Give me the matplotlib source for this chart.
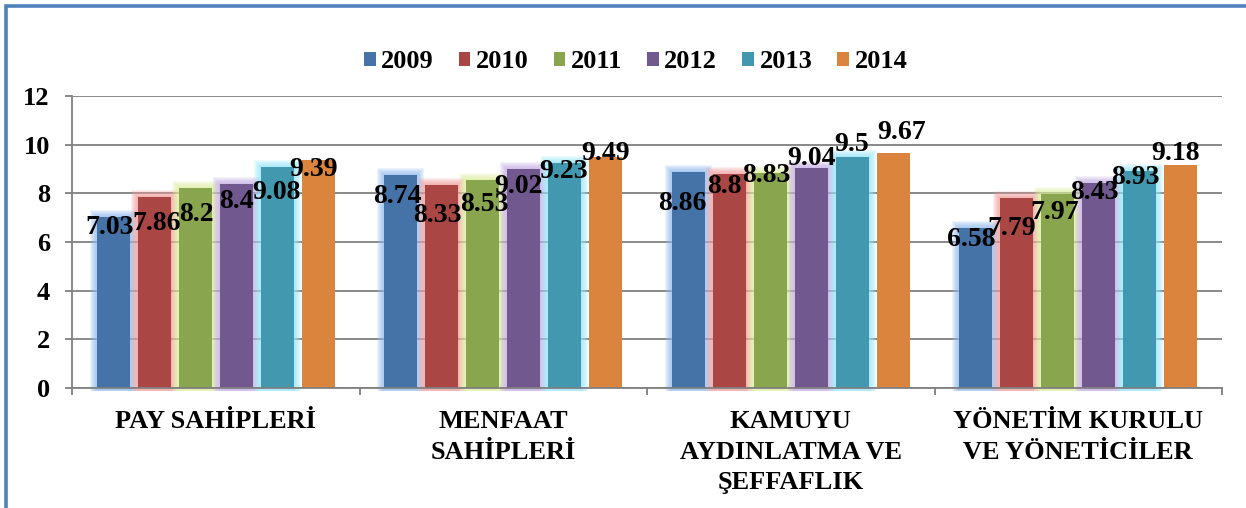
import matplotlib
matplotlib.use("Agg")
import matplotlib.pyplot as plt
from matplotlib.patches import Rectangle
from matplotlib.lines import Line2D

plt.rcParams['font.family'] = ['Liberation Serif', 'DejaVu Serif']

categories = ["PAY SAHİPLERİ", "MENFAAT\nSAHİPLERİ", "KAMUYU\nAYDINLATMA VE\nŞEFFAFLIK",
              "YÖNETİM KURULU\nVE YÖNETİCİLER"]
years = ["2009", "2010", "2011", "2012", "2013", "2014"]
v2009 = [7.03, 8.74, 8.86, 6.58]
v2010 = [7.86, 8.33, 8.8, 7.79]
v2011 = [8.2, 8.53, 8.83, 7.97]
v2012 = [8.4, 9.02, 9.04, 8.43]
v2013 = [9.08, 9.23, 9.5, 8.93]
v2014 = [9.39, 9.49, 9.67, 9.18]
series = [v2009, v2010, v2011, v2012, v2013, v2014]
yticks = [0, 2, 4, 6, 8, 10, 12]

colors = ["#4572A7", "#AA4643", "#89A54E", "#71588F", "#4198AF", "#DB843D"]
glow_colors = ["#8DB8EE", "#F29A9A", "#DDEE99", "#C3A8E6", "#90E6FA", None]

# label offsets in pixels (dx right, dy below bar top)
label_dx = [[-4, -4, -6, -5], [2, -4, -5, -5], [1, 2, -4, -3],
            [0, -5, 0, -4], [-1, -1, -1, -4], [-5, 0, 8, -5]]
label_dy = [[11, 21, 31, 12], [27, 30, 13, 30], [26, 24, 2, 18],
            [18, 18, -10, 10], [25, 8, -12, 7], [10, -4, -20, -11]]

W, H = 1246, 508
fig = plt.figure(figsize=(W / 100, H / 100), dpi=100)
ax = fig.add_axes([72 / W, 1 - 388 / H, (1222 - 72) / W, (388 - 96) / H])
ax.set_xlim(0, 4)
ax.set_ylim(0, 12)

px_x = 4 / 1150.0   # data units per pixel horizontally
px_y = 12 / 292.0   # data units per pixel vertically

step = 41 / 288.0
bw = 33 / 288.0

for i, (vals, col, gcol) in enumerate(zip(series, colors, glow_colors)):
    xs = [c + 0.5 + (i - 2.5) * step for c in range(len(vals))]
    for x, v in zip(xs, vals):
        if gcol is not None:
            for k in range(1, 8):
                m = k
                r = Rectangle((x - bw / 2 - m * px_x, -3 * px_y), bw + 2 * m * px_x,
                              v + 3 * px_y + m * px_y, facecolor=gcol, edgecolor='none',
                              alpha=0.16, zorder=1, clip_on=False)
                ax.add_patch(r)
    ax.bar(xs, vals, width=bw, color=col, zorder=2, label=years[i])
    for j, (x, v) in enumerate(zip(xs, vals)):
        ax.annotate(f"{v:g}", xy=(x, v), xytext=(label_dx[i][j], -label_dy[i][j]),
                    textcoords='offset pixels', ha='center', va='center',
                    fontsize=20, fontweight='bold', color='black', zorder=5)

ax.set_yticks(yticks)
ax.set_yticklabels([str(t) for t in yticks], fontsize=19, fontweight='bold')
ax.yaxis.grid(True, color='#808080', linewidth=1.3, zorder=0)
ax.set_axisbelow(True)
ax.tick_params(axis='y', length=5, width=1.3, color='#808080', pad=11)

ax.set_xticks([0.5, 1.5, 2.5, 3.5])
ax.set_xticklabels(categories, fontsize=19, fontweight='bold', linespacing=1.42)
ax.tick_params(axis='x', which='major', length=0, pad=16)
ax.set_xticks([0, 1, 2, 3, 4], minor=True)
ax.tick_params(axis='x', which='minor', length=5, width=1.3, color='#808080', direction='out')

for s in ['top', 'right']:
    ax.spines[s].set_visible(False)
for s in ['left', 'bottom']:
    ax.spines[s].set_color('#808080')
    ax.spines[s].set_linewidth(1.3)

handles = [Rectangle((0, 0), 1, 1, facecolor=c) for c in colors]
fig.legend(handles, years, loc='center', bbox_to_anchor=(0.51, 1 - 62 / H), ncol=6,
           frameon=False, prop={'size': 19, 'weight': 'bold'}, handlelength=0.45,
           handleheight=0.45, handletextpad=0.2, columnspacing=0.95)

# blue border (left and top edges)
fig.add_artist(Line2D([5.5 / W, 5.5 / W, 1], [0, 1 - 5.5 / H, 1 - 5.5 / H],
                      transform=fig.transFigure, color='#4F81BD', linewidth=2.6,
                      solid_joinstyle='miter'))

fig.savefig("out.png", dpi=100)
